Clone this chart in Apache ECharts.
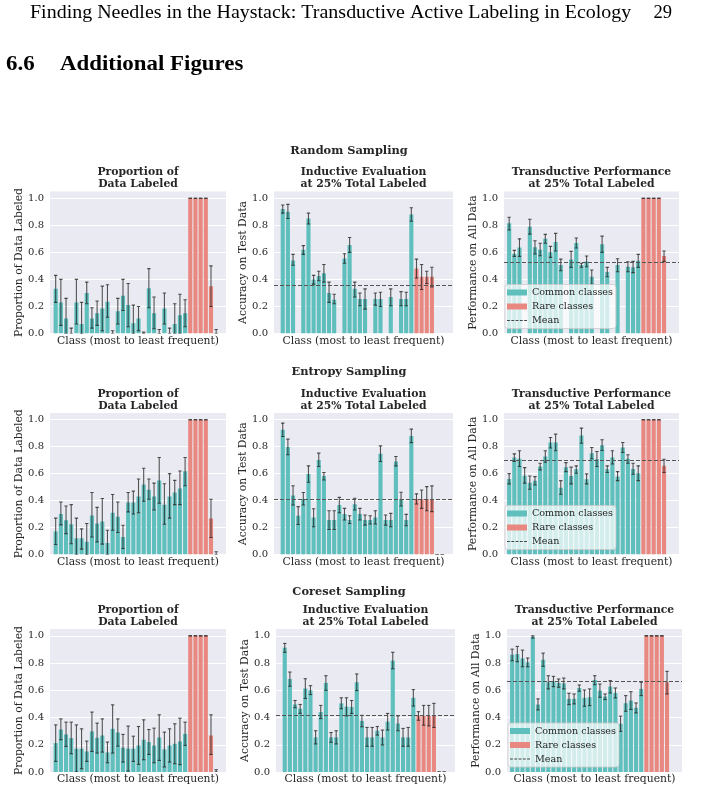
<!DOCTYPE html>
<html>
<head>
<meta charset="utf-8">
<script src="https://cdn.jsdelivr.net/npm/echarts@6/dist/echarts.min.js"></script>
<style>
  html, body { margin: 0; padding: 0; background: #ffffff; }
  #chart { width: 702px; height: 791px; }
</style>
</head>
<body>
<div id="chart"></div>
<script>
// classes sorted from most to least frequent, the last six are the rare ones
const classIds = [0, 1, 2, 3, 4, 5, 6, 7, 8, 9, 10, 11, 12, 13, 14, 15,
  16, 17, 18, 19, 20, 21, 22, 23, 24, 25, 26, 27, 28, 29, 30, 31]
const rareFrom = 26

const samplingNames = ['Random Sampling', 'Entropy Sampling', 'Coreset Sampling']
const panelTitles = ['Proportion of\nData Labeled', 'Inductive Evaluation\nat 25% Total Labeled', 'Transductive Performance\nat 25% Total Labeled']
const yNames = ['Proportion of Data Labeled', 'Accuracy on Test Data', 'Performance on All Data']
const xName = 'Class (most to least frequent)'
const legendNames = ['Common classes', 'Rare classes', 'Mean']

// ---- Random sampling ----
const randomLabeled = [0.33, 0.23, 0.11, 0, 0.23, 0.07, 0.30, 0.11, 0.15, 0.185, 0.235, 0, 0.165, 0.28, 0.21, 0.075,
  0.11, 0, 0.335, 0.15, 0, 0.185, 0, 0.07, 0.135, 0.15, 1, 1, 1, 1, 0.35, 0]
const randomLabeledLo = [0.23, 0.06, 0, 0, 0.07, 0, 0.22, 0.04, 0.06, 0.02, 0.12, 0, 0.07, 0.17, 0.05, 0,
  0.02, 0, 0.19, 0.035, 0, 0.07, 0, 0, 0, 0.05, 1, 1, 1, 1, 0.20, 0]
const randomLabeledHi = [0.43, 0.40, 0.26, 0.04, 0.40, 0.23, 0.38, 0.19, 0.24, 0.35, 0.36, 0.02, 0.26, 0.40, 0.37, 0.21,
  0.20, 0.01, 0.48, 0.27, 0.03, 0.30, 0.04, 0.22, 0.29, 0.25, 1, 1, 1, 1, 0.50, 0.03]

const randomInductive = [0.92, 0.90, 0.54, null, 0.62, 0.85, 0.40, 0.425, 0.445, 0.30, 0.25, null, 0.555, 0.655, 0.33, 0.255,
  0.255, null, 0.255, 0.255, null, 0.27, null, 0.255, 0.255, 0.88, 0.48, 0.42, 0.42, 0.42, null, null]
const randomInductiveLo = [0.89, 0.85, 0.505, null, 0.585, 0.81, 0.365, 0.39, 0.38, 0.23, 0.22, null, 0.52, 0.60, 0.27, 0.205,
  0.18, null, 0.21, 0.20, null, 0.205, null, 0.205, 0.205, 0.83, 0.41, 0.325, 0.37, 0.345, null, null]
const randomInductiveHi = [0.95, 0.955, 0.585, null, 0.65, 0.89, 0.43, 0.46, 0.51, 0.38, 0.29, null, 0.59, 0.71, 0.38, 0.30,
  0.33, null, 0.30, 0.305, null, 0.33, null, 0.31, 0.305, 0.93, 0.55, 0.51, 0.46, 0.49, null, null]
const randomInductiveMean = 0.363

const randomTransductive = [0.815, 0.59, 0.635, null, 0.79, 0.637, 0.62, 0.70, 0.60, 0.677, 0.506, null, 0.548, 0.669, 0.506, 0.533,
  0.42, null, 0.66, 0.454, null, 0.506, null, 0.494, 0.489, 0.538, 1, 1, 1, 1, 0.573, null]
const randomTransductiveLo = [0.765, 0.57, 0.57, null, 0.735, 0.588, 0.575, 0.667, 0.563, 0.61, 0.464, null, 0.489, 0.632, 0.49, 0.494,
  0.363, null, 0.60, 0.42, null, 0.457, null, 0.457, 0.45, 0.489, 1, 1, 1, 1, 0.533, null]
const randomTransductiveHi = [0.86, 0.615, 0.70, null, 0.845, 0.686, 0.667, 0.733, 0.644, 0.74, 0.55, null, 0.607, 0.706, 0.52, 0.573,
  0.47, null, 0.72, 0.489, null, 0.553, null, 0.53, 0.533, 0.585, 1, 1, 1, 1, 0.61, null]
const randomTransductiveMean = 0.533

// ---- Entropy sampling ----
const entropyLabeled = [0.17, 0.30, 0.255, 0.225, 0.12, 0.12, 0.094, 0.29, 0.23, 0.245, 0.086, 0.31, 0.28, 0.13, 0.385, 0.385,
  0.43, 0.52, 0.48, 0.43, 0.55, 0.37, 0.43, 0.46, 0.49, 0.617, 1, 1, 1, 1, 0.267, 0]
const entropyLabeledLo = [0.074, 0.22, 0.155, 0.08, 0, 0.04, 0, 0.13, 0.094, 0.077, 0, 0.18, 0.163, 0.044, 0.316, 0.30,
  0.31, 0.395, 0.41, 0.33, 0.38, 0.225, 0.27, 0.37, 0.37, 0.51, 1, 1, 1, 1, 0.126, 0]
const entropyLabeledHi = [0.27, 0.39, 0.36, 0.37, 0.27, 0.19, 0.23, 0.46, 0.35, 0.415, 0.18, 0.445, 0.39, 0.217, 0.46, 0.47,
  0.56, 0.64, 0.56, 0.53, 0.72, 0.525, 0.60, 0.55, 0.62, 0.72, 1, 1, 1, 1, 0.41, 0.02]

const entropyInductive = [0.925, 0.797, 0.437, 0.288, 0.412, 0.598, 0.275, 0.702, 0.583, 0.256, 0.256, 0.367, 0.30, 0.256, 0.372, 0.30,
  0.256, 0.256, 0.275, 0.747, 0.256, 0.256, 0.69, 0.412, 0.256, 0.88, 0.412, 0.412, 0.412, 0.412, 0, 0]
const entropyInductiveLo = [0.876, 0.74, 0.367, 0.223, 0.367, 0.536, 0.206, 0.653, 0.553, 0.186, 0.186, 0.31, 0.256, 0.23, 0.33, 0.256,
  0.218, 0.226, 0.226, 0.69, 0.218, 0.206, 0.658, 0.36, 0.213, 0.83, 0.375, 0.342, 0.325, 0.318, 0, 0]
const entropyInductiveHi = [0.975, 0.856, 0.51, 0.355, 0.46, 0.658, 0.34, 0.752, 0.608, 0.325, 0.325, 0.424, 0.342, 0.288, 0.417, 0.342,
  0.293, 0.288, 0.325, 0.806, 0.293, 0.305, 0.727, 0.462, 0.298, 0.93, 0.45, 0.479, 0.504, 0.509, 0, 0]
const entropyInductiveMean = 0.412

const entropyTransductive = [0.56, 0.72, 0.71, 0.585, 0.533, 0.548, 0.653, 0.727, 0.831, 0.831, 0.496, 0.648, 0.583, 0.633, 0.883, 0.558,
  0.752, 0.707, 0.811, 0.633, 0.72, 0.578, 0.794, 0.71, 0.635, 0.603, 1, 1, 1, 1, 0.658, null]
const entropyTransductiveLo = [0.524, 0.69, 0.653, 0.53, 0.484, 0.516, 0.628, 0.685, 0.79, 0.77, 0.447, 0.615, 0.524, 0.603, 0.826, 0.524,
  0.71, 0.653, 0.772, 0.608, 0.672, 0.548, 0.757, 0.677, 0.596, 0.548, 1, 1, 1, 1, 0.608, null]
const entropyTransductiveHi = [0.60, 0.747, 0.77, 0.645, 0.583, 0.578, 0.677, 0.77, 0.868, 0.893, 0.548, 0.682, 0.648, 0.658, 0.938, 0.598,
  0.794, 0.764, 0.851, 0.658, 0.77, 0.615, 0.831, 0.74, 0.677, 0.658, 1, 1, 1, 1, 0.707, null]
const entropyTransductiveMean = 0.697

// ---- Coreset sampling ----
const coresetLabeled = [0.212, 0.312, 0.276, 0.249, 0.171, 0.171, 0.151, 0.298, 0.251, 0.268, 0.144, 0.317, 0.29, 0.178, 0.171, 0.171,
  0.195, 0.237, 0.22, 0.195, 0.254, 0.166, 0.195, 0.207, 0.224, 0.28, 1, 1, 1, 1, 0.268, 0]
const coresetLabeledLo = [0.078, 0.237, 0.188, 0.134, 0, 0.024, 0.078, 0.151, 0.139, 0.146, 0.068, 0.139, 0.19, 0.073, 0.007, 0.078,
  0.056, 0.09, 0.129, 0.068, 0.085, 0.037, 0.073, 0.061, 0.054, 0.195, 1, 1, 1, 1, 0.129, 0]
const coresetLabeledHi = [0.346, 0.39, 0.366, 0.366, 0.346, 0.317, 0.227, 0.44, 0.359, 0.39, 0.22, 0.493, 0.39, 0.276, 0.337, 0.263,
  0.334, 0.383, 0.312, 0.322, 0.42, 0.293, 0.317, 0.354, 0.395, 0.366, 1, 1, 1, 1, 0.42, 0.017]

const coresetInductive = [0.913, 0.683, 0.496, 0.465, 0.613, 0.60, 0.254, 0.44, 0.654, 0.254, 0.254, 0.504, 0.48, 0.477, 0.659, 0.375,
  0.254, 0.254, 0.303, 0.254, 0.37, 0.818, 0.356, 0.254, 0.254, 0.545, 0.412, 0.412, 0.412, 0.412, 0, 0]
const coresetInductiveLo = [0.879, 0.63, 0.472, 0.431, 0.54, 0.569, 0.206, 0.392, 0.60, 0.218, 0.206, 0.465, 0.412, 0.43, 0.598, 0.332,
  0.189, 0.189, 0.271, 0.199, 0.308, 0.758, 0.303, 0.189, 0.189, 0.484, 0.38, 0.344, 0.339, 0.327, 0, 0]
const coresetInductiveHi = [0.944, 0.734, 0.525, 0.496, 0.685, 0.634, 0.303, 0.489, 0.707, 0.29, 0.303, 0.545, 0.545, 0.525, 0.72, 0.416,
  0.327, 0.327, 0.334, 0.308, 0.43, 0.879, 0.412, 0.32, 0.327, 0.605, 0.443, 0.489, 0.489, 0.504, 0, 0]
const coresetInductiveMean = 0.424

const coresetTransductive = [0.861, 0.866, 0.834, 0.805, 0.993, 0.495, 0.824, 0.659, 0.666, 0.654, 0.651, 0.537, 0.537, 0.617, 0.544, 0.549,
  0.676, 0.598, 0.554, 0.627, 0.58, 0.354, 0.505, 0.524, 0.471, 0.61, 1, 1, 1, 1, 0.659, null]
const coresetTransductiveLo = [0.817, 0.81, 0.773, 0.773, 0.983, 0.456, 0.776, 0.61, 0.627, 0.622, 0.61, 0.495, 0.50, 0.593, 0.483, 0.488,
  0.641, 0.549, 0.532, 0.58, 0.544, 0.298, 0.446, 0.459, 0.434, 0.561, 1, 1, 1, 1, 0.573, null]
const coresetTransductiveHi = [0.902, 0.922, 0.895, 0.837, 1.0, 0.537, 0.873, 0.707, 0.702, 0.683, 0.69, 0.578, 0.573, 0.639, 0.602, 0.61,
  0.707, 0.646, 0.573, 0.671, 0.617, 0.41, 0.561, 0.59, 0.507, 0.659, 1, 1, 1, 1, 0.739, null]
const coresetTransductiveMean = 0.668

const panels = [
  [randomLabeled, randomLabeledLo, randomLabeledHi, null],
  [randomInductive, randomInductiveLo, randomInductiveHi, randomInductiveMean],
  [randomTransductive, randomTransductiveLo, randomTransductiveHi, randomTransductiveMean],
  [entropyLabeled, entropyLabeledLo, entropyLabeledHi, null],
  [entropyInductive, entropyInductiveLo, entropyInductiveHi, entropyInductiveMean],
  [entropyTransductive, entropyTransductiveLo, entropyTransductiveHi, entropyTransductiveMean],
  [coresetLabeled, coresetLabeledLo, coresetLabeledHi, null],
  [coresetInductive, coresetInductiveLo, coresetInductiveHi, coresetInductiveMean],
  [coresetTransductive, coresetTransductiveLo, coresetTransductiveHi, coresetTransductiveMean]
]

// layout (pixels)
const rowTop = [191.5, 413, 629]
const rowHeight = [142, 141.5, 143]
const rowSuptitleY = [151, 372.5, 592]
const colLeft = [[50, 274, 504], [50, 274, 504], [50, 276, 507]]
const colWidth = [176, 179, 175]
const colXRange = [[-1.1, 32.9], [-1.7, 33.1], [-1.0, 32.9]]
const colNameGap = [21, 17, 22]

const teal = '#5ebfbc'
const salmon = '#e98880'
const errColor = 'rgba(40, 40, 40, 0.78)'
const textColor = '#262626'
const serif = '"DejaVu Serif", serif'

function barItems(vals, lo, hi, from, to) {
  const out = []
  for (let i = from; i < to; i++) {
    if (vals[i] === null) continue
    out.push([classIds[i], vals[i], lo[i], hi[i]])
  }
  return out
}

function renderBar(params, api) {
  const x = api.value(0)
  const v = api.value(1)
  const base = api.coord([x, 0])
  const top = api.coord([x, v])
  const pLo = api.coord([x, api.value(2)])
  const pHi = api.coord([x, api.value(3)])
  const w = api.size([0.8, 0])[0]
  const cap = 1.7
  const es = { stroke: errColor, lineWidth: 1.1 }
  const children = []
  if (v > 0) {
    children.push({
      type: 'rect',
      shape: { x: base[0] - w / 2, y: top[1], width: w, height: base[1] - top[1] },
      style: { fill: api.visual('color') }
    })
  }
  children.push({ type: 'line', shape: { x1: pLo[0], y1: pLo[1], x2: pHi[0], y2: pHi[1] }, style: es })
  children.push({ type: 'line', shape: { x1: pHi[0] - cap, y1: pHi[1], x2: pHi[0] + cap, y2: pHi[1] }, style: es })
  children.push({ type: 'line', shape: { x1: pLo[0] - cap, y1: pLo[1], x2: pLo[0] + cap, y2: pLo[1] }, style: es })
  return { type: 'group', children }
}

const grid = []
const xAxis = []
const yAxis = []
const series = []
const legend = []
const graphic = [
  { type: 'text', x: 30, y: 13, scaleX: 1.08, style: { text: 'Finding Needles in the Haystack: Transductive Active Labeling in Ecology', font: '18.5px "Liberation Serif"', fill: '#000', verticalAlign: 'middle' } },
  { type: 'text', x: 672, y: 13, style: { text: '29', font: '18.5px "Liberation Serif"', fill: '#000', align: 'right', verticalAlign: 'middle' } },
  { type: 'text', x: 6, y: 65, scaleX: 1.09, style: { text: '6.6', font: 'bold 21px "Liberation Serif"', fill: '#000', verticalAlign: 'middle' } },
  { type: 'text', x: 60, y: 65, scaleX: 1.09, style: { text: 'Additional Figures', font: 'bold 21px "Liberation Serif"', fill: '#000', verticalAlign: 'middle' } }
]

panels.forEach(([vals, lo, hi, mean], k) => {
  const row = Math.floor(k / 3)
  const col = k % 3
  const left = colLeft[row][col]
  const width = colWidth[col]
  grid.push({
    left, top: rowTop[row], width, height: rowHeight[row],
    show: true, backgroundColor: '#eaeaf2', borderWidth: 0
  })
  xAxis.push({
    gridIndex: k, type: 'value', min: colXRange[col][0], max: colXRange[col][1],
    axisLine: { show: false }, axisTick: { show: false }, axisLabel: { show: false }, splitLine: { show: false },
    name: xName, nameLocation: 'middle', nameGap: 2,
    nameTextStyle: { fontFamily: serif, fontSize: 10.8, color: textColor, verticalAlign: 'top' }
  })
  yAxis.push({
    gridIndex: k, type: 'value', min: 0, max: 1.05, interval: 0.2,
    axisLine: { show: false }, axisTick: { show: false },
    axisLabel: {
      color: textColor, fontFamily: serif, fontSize: 10, margin: 6,
      formatter: v => (Math.abs(v * 5 - Math.round(v * 5)) < 1e-6 ? v.toFixed(1) : '')
    },
    splitLine: { lineStyle: { color: '#ffffff', width: 1 }, showMaxLine: false },
    name: yNames[col], nameLocation: 'middle', nameRotate: 90, nameGap: colNameGap[col],
    nameTextStyle: { fontFamily: serif, fontSize: 10.8, color: textColor }
  })
  series.push({
    name: legendNames[0], type: 'custom', xAxisIndex: k, yAxisIndex: k, clip: true,
    itemStyle: { color: teal }, renderItem: renderBar, encode: { x: 0, y: 1 },
    data: barItems(vals, lo, hi, 0, rareFrom), z: 2
  })
  series.push({
    name: legendNames[1], type: 'custom', xAxisIndex: k, yAxisIndex: k, clip: true,
    itemStyle: { color: salmon }, renderItem: renderBar, encode: { x: 0, y: 1 },
    data: barItems(vals, lo, hi, rareFrom, classIds.length), z: 2
  })
  if (mean !== null) {
    series.push({
      name: legendNames[2], type: 'line', xAxisIndex: k, yAxisIndex: k, data: [], z: 3,
      lineStyle: { color: '#555555', width: 1, type: [4, 2] },
      markLine: {
        silent: true, symbol: ['none', 'none'], label: { show: false },
        lineStyle: { color: '#555555', width: 1, type: [4, 2] },
        data: [{ yAxis: mean }]
      }
    })
  }
  graphic.push({
    type: 'text', x: left + width / 2, y: rowTop[row] - 25,
    style: { text: panelTitles[col], font: 'bold 10.8px "DejaVu Serif"', fill: textColor, align: 'center', verticalAlign: 'top', lineHeight: 12 }
  })
  if (col === 2) {
    legend.push({
      left: left + 1, bottom: 791 - (rowTop[row] + rowHeight[row] - 5),
      orient: 'vertical', selectedMode: false,
      backgroundColor: 'rgba(255, 255, 255, 0.72)', borderColor: '#cccccc', borderWidth: 0.8, borderRadius: 3,
      padding: [2, 3, 2, 2], itemGap: 2, itemWidth: 20, itemHeight: 6,
      textStyle: { fontFamily: serif, fontSize: 9.6, color: textColor, lineHeight: 12 },
      data: [
        { name: legendNames[0], icon: 'rect', itemStyle: { color: teal } },
        { name: legendNames[1], icon: 'rect', itemStyle: { color: salmon } },
        { name: legendNames[2], icon: 'path://M0 0h3v1.1H0zM4.5 0h3v1.1h-3zM9 0h3v1.1H9zM13.5 0h3v1.1h-3zM18 0h3v1.1h-3z', itemStyle: { color: '#444444' } }
      ]
    })
  }
})

samplingNames.forEach((name, row) => {
  graphic.push({
    type: 'text', x: 349, y: rowSuptitleY[row],
    style: { text: name, font: 'bold 11.4px "DejaVu Serif"', fill: textColor, align: 'center', verticalAlign: 'middle' }
  })
})

const chart = echarts.init(document.getElementById('chart'))
chart.setOption({
  animation: false,
  backgroundColor: '#ffffff',
  grid, xAxis, yAxis, series, legend, graphic
})
</script>
</body>
</html>
